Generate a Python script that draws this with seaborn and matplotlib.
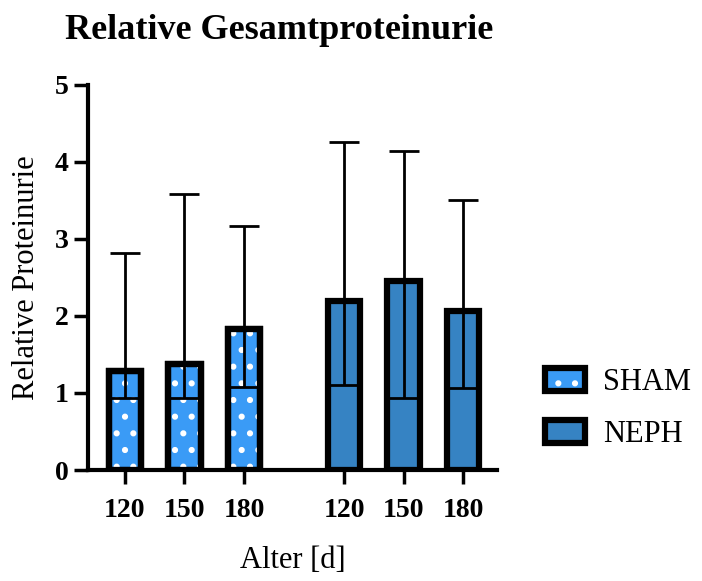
import numpy as np
import pandas as pd
import matplotlib
matplotlib.use("Agg")
import matplotlib.pyplot as plt
from matplotlib.patches import Patch
from matplotlib.legend_handler import HandlerTuple
import seaborn as sns

groups = ["SHAM", "SHAM", "SHAM", "NEPH", "NEPH", "NEPH"]
ages = ["120", "150", "180", "120", "150", "180"]
means = [1.28, 1.37, 1.83, 2.19, 2.45, 2.07]
lower = [0.94, 0.94, 1.08, 1.10, 0.93, 1.07]
upper = [2.82, 3.58, 3.17, 4.26, 4.14, 3.51]

positions = [0, 1, 2, 3.68, 4.68, 5.68]
colors = {"SHAM": "#3A9BF6", "NEPH": "#3683C3"}

df = pd.DataFrame({"group": groups, "age": ages, "value": means, "pos": positions})

sns.set_style("ticks")
plt.rcParams["font.family"] = ["Liberation Serif", "DejaVu Serif"]
plt.rcParams["hatch.linewidth"] = 2.0
plt.rcParams["text.color"] = "black"
plt.rcParams["axes.labelcolor"] = "black"
plt.rcParams["xtick.color"] = "black"
plt.rcParams["ytick.color"] = "black"
plt.rcParams["axes.edgecolor"] = "black"

fig = plt.figure(figsize=(7.02, 5.81), dpi=100)
ax = fig.add_axes([0.1254, 0.191, 0.5826, 0.663])

sns.barplot(data=df, x="pos", y="value", hue="group", palette=colors,
            native_scale=True, width=0.55, dodge=False, errorbar=None, saturation=1,
            edgecolor="black", linewidth=4.5, legend=False, ax=ax)

# hatch overlay on SHAM bars
for p, g in zip(sorted(ax.patches, key=lambda r: r.get_x()), df.sort_values("pos")["group"]):
    if g == "SHAM":
        ax.bar(p.get_x() + p.get_width() / 2, p.get_height(), width=p.get_width(),
               fill=False, edgecolor="white", linewidth=0, hatch=".", zorder=p.get_zorder() + 0.1)
        ax.bar(p.get_x() + p.get_width() / 2, p.get_height(), width=p.get_width(),
               fill=False, edgecolor="black", linewidth=4.5, zorder=p.get_zorder() + 0.2)

yerr = np.array([np.array(means) - np.array(lower), np.array(upper) - np.array(means)])
ax.errorbar(df["pos"], df["value"], yerr=yerr, fmt="none", ecolor="black",
            elinewidth=2, capsize=11, capthick=2, zorder=5)

ax.set_xlim(-0.62, 6.25)
ax.set_ylim(0, 5)
ax.set_yticks([0, 1, 2, 3, 4, 5])
ax.set_xticks(positions)
ax.set_xticklabels(ages)
for lab in ax.get_xticklabels() + ax.get_yticklabels():
    lab.set_fontweight("bold")
    lab.set_fontsize(20)

for s in ["top", "right"]:
    ax.spines[s].set_visible(False)
for s in ["left", "bottom"]:
    ax.spines[s].set_linewidth(3)
ax.tick_params(axis="both", width=2.5, length=10, direction="out")
ax.tick_params(axis="y", pad=4)
ax.tick_params(axis="x", pad=10)

ax.set_xlabel("Alter [d]", fontsize=22, labelpad=17)
ax.set_ylabel("Relative Proteinurie", fontsize=22, labelpad=10)
fig.text(0.093, 0.948, "Relative Gesamtproteinurie", fontsize=26, fontweight="bold",
         ha="left", va="center")

sham_fill = Patch(facecolor=colors["SHAM"], edgecolor="white", linewidth=0, hatch=".")
sham_edge = Patch(facecolor="none", edgecolor="black", linewidth=4.5)
neph_patch = Patch(facecolor=colors["NEPH"], edgecolor="black", linewidth=4.5)
leg = ax.legend(handles=[(sham_fill, sham_edge), neph_patch], labels=["SHAM", "NEPH"],
                handler_map={tuple: HandlerTuple(ndivide=1)},
                loc="center left", bbox_to_anchor=(1.05, 0.16),
                frameon=False, fontsize=22, handlelength=1.3, handleheight=0.8,
                labelspacing=0.75, handletextpad=0.6)

fig.savefig("out.png", dpi=100)
